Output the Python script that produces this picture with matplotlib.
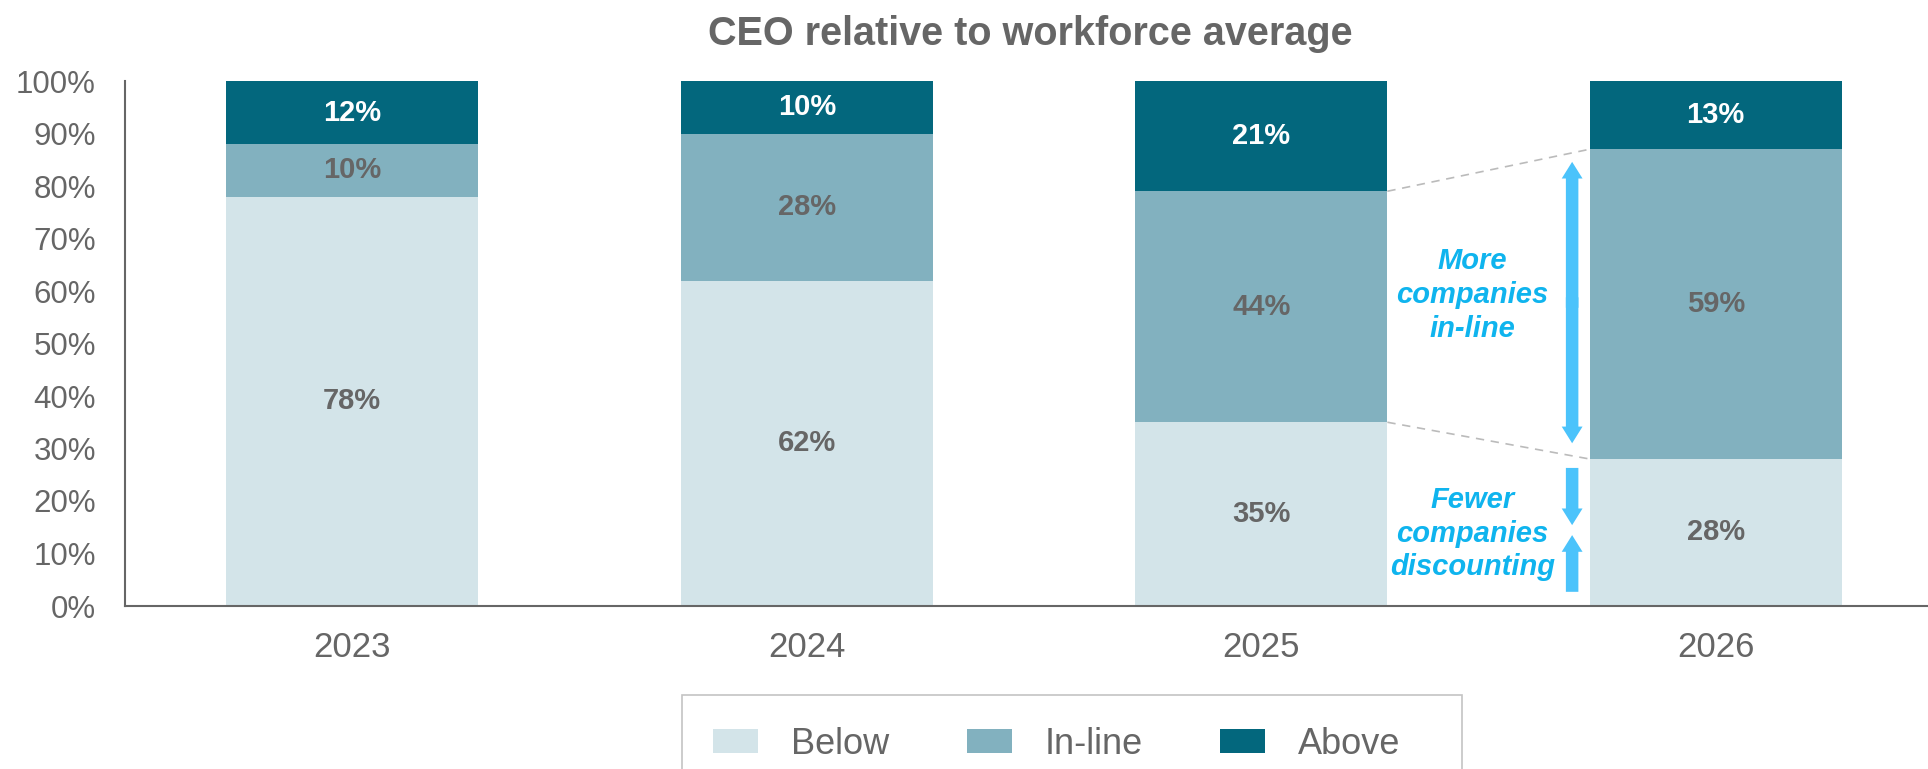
import matplotlib
matplotlib.use("Agg")
import matplotlib.pyplot as plt
from matplotlib.patches import Patch, Rectangle, FancyArrowPatch

plt.rcParams["font.family"] = ["Liberation Sans", "DejaVu Sans"]

years = ["2023", "2024", "2025", "2026"]
below = [78, 62, 35, 28]
inline = [10, 28, 44, 59]
above = [12, 10, 21, 13]

series_names = ["Below", "In-line", "Above"]
series_colors = ["#D3E4E9", "#82B1BF", "#03677D"]
label_colors = ["#666666", "#666666", "#FFFFFF"]

GRAY = "#666666"
CALLOUT = "#0FB4EE"
ARROW = "#4BC3FB"

W, H, DPI = 1928, 769, 100
fig = plt.figure(figsize=(W / DPI, H / DPI), dpi=DPI)
fig.patch.set_facecolor("white")

# axes spans x=125px .. past the right edge, y=81px .. 606px
ax = fig.add_axes([125 / W, 1 - 606 / H, 1818 / W, 525 / H])
ax.set_facecolor("white")

x = list(range(len(years)))
bar_w = 0.555
bottoms = [0] * len(years)
for vals, name, col, lcol in zip([below, inline, above], series_names, series_colors, label_colors):
    bars = ax.bar(x, vals, bar_w, bottom=bottoms, color=col, label=name, linewidth=0, zorder=2)
    for b, v, b0 in zip(bars, vals, bottoms):
        ax.text(b.get_x() + b.get_width() / 2, b0 + v / 2, f"{v}%", ha="center", va="center",
                fontsize=21, fontweight="bold", color=lcol, zorder=3)
    bottoms = [b0 + v for b0, v in zip(bottoms, vals)]

ax.set_xlim(-0.5, 3.5)
ax.set_ylim(0, 100)
ax.set_yticks(range(0, 101, 10))
ax.set_yticklabels([f"{t}%" for t in range(0, 101, 10)])
ax.set_xticks(x)
ax.set_xticklabels(years)
ax.tick_params(axis="y", length=0, pad=21, labelsize=22.5, labelcolor=GRAY)
ax.tick_params(axis="x", length=0, pad=18, labelsize=25, labelcolor=GRAY)
for side in ["top", "right"]:
    ax.spines[side].set_visible(False)
for side in ["left", "bottom"]:
    ax.spines[side].set_color(GRAY)
    ax.spines[side].set_linewidth(1.5)

# dashed connectors between the 2025 and 2026 in-line segments
x_left = 2 + bar_w / 2
x_right = 3 - bar_w / 2
top_25 = below[2] + inline[2]
top_26 = below[3] + inline[3]
ax.plot([x_left, x_right], [top_25, top_26], ls=(0, (5, 4)), color="#BBBBBB", lw=1.2, zorder=1)
ax.plot([x_left, x_right], [below[2], below[3]], ls=(0, (5, 4)), color="#BBBBBB", lw=1.2, zorder=1)

# callout arrows
arrow_x = 2.684
style = "simple,head_length=0.8,head_width=1.0,tail_width=0.6"


def draw_arrow(y0, y1):
    ax.add_patch(FancyArrowPatch((arrow_x, y0), (arrow_x, y1), arrowstyle=style, mutation_scale=15,
                                 color=ARROW, lw=0, shrinkA=0, shrinkB=0, zorder=4))


# the double-headed arrow is two halves that overlap a little in the middle
mid = (below[3] + 3 + top_26 - 2.4) / 2
draw_arrow(mid - 1, top_26 - 2.4)
draw_arrow(mid + 1, below[3] + 3)
draw_arrow(below[2] - 8.7, below[3] - 12.6)
draw_arrow(2.7, below[3] - 14.5)

ax.text(2.465, 59.2, "More\ncompanies\nin-line", ha="center", va="center", fontsize=21,
        fontweight="bold", fontstyle="italic", color=CALLOUT, linespacing=1.27, zorder=4)
ax.text(2.465, 13.8, "Fewer\ncompanies\ndiscounting", ha="center", va="center", fontsize=21,
        fontweight="bold", fontstyle="italic", color=CALLOUT, linespacing=1.27, zorder=4)

fig.text(1030 / W, 1 - 34 / H, "CEO relative to workforce average", ha="center", va="center",
         fontsize=28.5, fontweight="bold", color=GRAY)

# legend frame runs off the bottom of the figure
fig.patches.append(Rectangle((682 / W, -0.05), (1462 - 682) / W, (769 - 695) / H + 0.05,
                             transform=fig.transFigure, fill=False, edgecolor="#C4C4C4", lw=1.2))
handles = [Patch(facecolor=c, edgecolor="none", label=n) for c, n in zip(series_colors, series_names)]
leg = fig.legend(handles=handles, loc="upper left", bbox_to_anchor=(713 / W, 1 - 727 / H),
                 bbox_transform=fig.transFigure, ncol=3, frameon=False, fontsize=26,
                 handlelength=1.25, handleheight=0.64, handletextpad=0.9, columnspacing=2.15,
                 borderpad=0, borderaxespad=0)
for t in leg.get_texts():
    t.set_color(GRAY)

fig.savefig("out.png", dpi=DPI, facecolor="white")
